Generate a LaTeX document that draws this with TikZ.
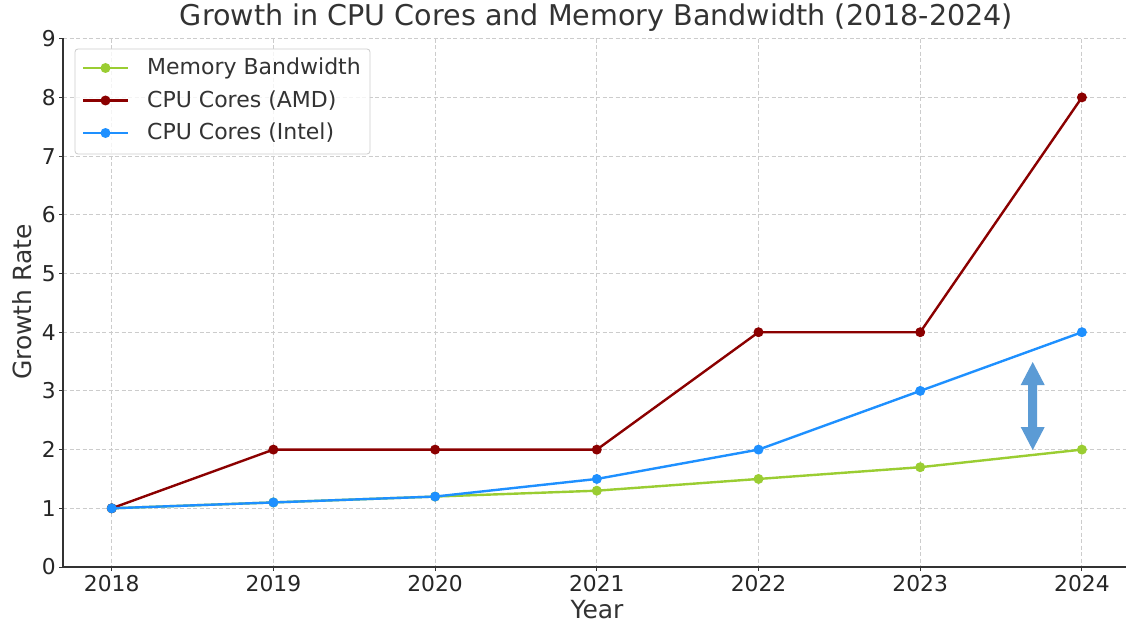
\documentclass[tikz,border=0pt]{standalone}
\usepackage{fontspec}
\setmainfont{DejaVu Sans}
\usetikzlibrary{arrows.meta}
\definecolor{memc}{HTML}{9ACD32}
\definecolor{amdc}{HTML}{8B0000}
\definecolor{intc}{HTML}{1E90FF}
\definecolor{txt}{HTML}{333333}
\definecolor{tick}{HTML}{262626}
\definecolor{gridc}{HTML}{CCCCCC}
\definecolor{arrc}{HTML}{5B9BD5}
\begin{document}
\begin{tikzpicture}[x=1pt,y=-1pt,
  gridline/.style={draw=gridc, line width=0.9pt, dash pattern=on 4pt off 2.5pt},
  spine/.style={draw=txt, line width=1.3pt},
  series/.style={line width=2.4pt, line join=round},
  ticklab/.style={text=tick, font=\fontsize{21.8}{24}\selectfont, inner sep=0pt},
  axlab/.style={text=txt, font=\fontsize{25}{28}\selectfont, inner sep=0pt},
  legtext/.style={text=txt, font=\fontsize{22}{24}\selectfont, anchor=west, inner sep=0pt},
  titlestyle/.style={text=txt, font=\fontsize{28.6}{32}\selectfont, inner sep=0pt}]
\useasboundingbox (0,0) rectangle (1126,623);
\fill[white] (0,0) rectangle (1126,623);
% data coordinates
\foreach \i/\m/\a/\n in {0/1/1/1, 1/1.1/2/1.1, 2/1.2/2/1.2, 3/1.3/2/1.5, 4/1.5/4/2, 5/1.7/4/3, 6/2/8/4}{
  \coordinate (m\i) at ({111.7+161.7*\i},{567-58.7*\m});
  \coordinate (a\i) at ({111.7+161.7*\i},{567-58.7*\a});
  \coordinate (n\i) at ({111.7+161.7*\i},{567-58.7*\n});
}
% grid
\foreach \i in {0,...,6}{
  \draw[gridline] ({111.7+161.7*\i},38.7) -- ({111.7+161.7*\i},567);
}
\foreach \v in {1,...,9}{
  \draw[gridline] (63,{567-58.7*\v}) -- (1126,{567-58.7*\v});
}
% series
\draw[series, memc] (m0) -- (m1) -- (m2) -- (m3) -- (m4) -- (m5) -- (m6);
\foreach \i in {0,...,6}{ \fill[memc] (m\i) circle (5); }
\draw[series, amdc] (a0) -- (a1) -- (a2) -- (a3) -- (a4) -- (a5) -- (a6);
\foreach \i in {0,...,6}{ \fill[amdc] (a\i) circle (5); }
\draw[series, intc] (n0) -- (n1) -- (n2) -- (n3) -- (n4) -- (n5) -- (n6);
\foreach \i in {0,...,6}{ \fill[intc] (n\i) circle (5); }
% axes
\draw[spine] (63,38.2) -- (63,567) -- (1126,567);
\foreach \v in {0,...,9}{
  \draw[spine, line width=1pt] (59,{567-58.7*\v}) -- (63,{567-58.7*\v});
  \node[ticklab, anchor=east] (yl\v) at (56,{567-58.7*\v}) {\v};
}
\foreach \i/\y in {0/2018,1/2019,2/2020,3/2021,4/2022,5/2023,6/2024}{
  \draw[spine, line width=1pt] ({111.7+161.7*\i},567) -- ({111.7+161.7*\i},571);
  \node[ticklab, anchor=north] (xl\i) at ({111.7+161.7*\i},575) {\y};
}
\node[axlab] (xlab) at (597,610) {Year};
\node[axlab, rotate=90] (ylab) at (22,302) {Growth Rate};
\node[titlestyle] (title) at (596.5,18) {Growth in CPU Cores and Memory Bandwidth (2018-2024)};
% legend
\draw[draw=gridc, line width=0.8pt, fill=white, fill opacity=0.8, rounded corners=3pt] (75,49) rectangle (370,154);
\coordinate (l1a) at (83,68); \coordinate (l1b) at (128,68);
\coordinate (l2a) at (83,100.5); \coordinate (l2b) at (128,100.5);
\coordinate (l3a) at (83,133); \coordinate (l3b) at (128,133);
\draw[series, memc] (l1a) -- (l1b); \fill[memc] (105.5,68) circle (5);
\draw[series, amdc] (l2a) -- (l2b); \fill[amdc] (105.5,100.5) circle (5);
\draw[series, intc] (l3a) -- (l3b); \fill[intc] (105.5,133) circle (5);
\node[legtext] (t1) at (147,68) {Memory Bandwidth};
\node[legtext] (t2) at (147,100.5) {CPU Cores (AMD)};
\node[legtext] (t3) at (147,133) {CPU Cores (Intel)};
% double arrow
\fill[arrc] (1032.7,362) -- (1044.7,385) -- (1037.2,385) -- (1037.2,427) -- (1044.7,427) -- (1032.7,450) -- (1020.7,427) -- (1028.2,427) -- (1028.2,385) -- (1020.7,385) -- cycle;
\end{tikzpicture}
\end{document}
